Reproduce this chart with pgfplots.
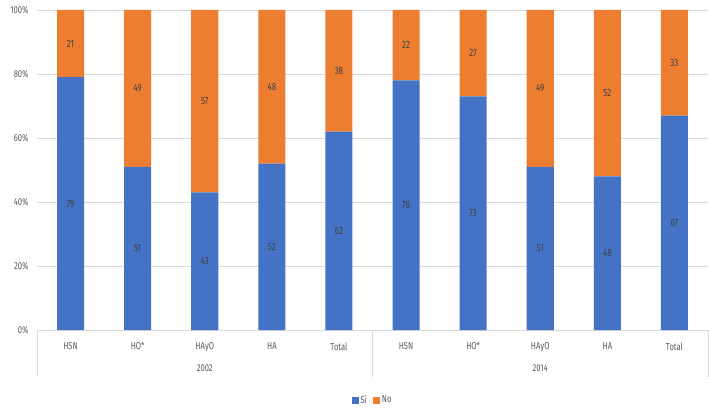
\documentclass[border=0pt]{standalone}
\usepackage{pgfplots}
\pgfplotsset{compat=1.18}
\usepackage{fontspec}
\setmainfont{Fira Sans}[FakeStretch=0.76]
\definecolor{cblue}{HTML}{4472C4}
\definecolor{corange}{HTML}{ED7D31}
\definecolor{gridc}{HTML}{D9D9D9}
\definecolor{txt}{HTML}{595959}
\definecolor{lbl}{HTML}{404040}
\begin{document}
\begin{tikzpicture}
\useasboundingbox (0,0) rectangle (709bp,411bp);
\begin{axis}[
  at={(37bp,81bp)}, anchor=south west,
  scale only axis, width=671bp, height=320bp,
  ymin=0, ymax=100, xmin=-0.5, xmax=9.5,
  enlargelimits=false, clip=false,
  ybar stacked, bar width=27bp,
  axis x line*=bottom, axis y line*=left,
  y axis line style={draw=none},
  x axis line style={draw=gridc, line width=0.8bp, -},
  ytick={0,20,40,60,80,100},
  yticklabel={\pgfmathprintnumber{\tick}\%},
  ymajorgrids, grid style={gridc, line width=0.8bp},
  major tick length=0pt,
  xtick={0,1,2,3,4,5,6,7,8,9},
  xticklabels={HSN,HO*,HAyO,HA,Total,HSN,HO*,HAyO,HA,Total},
  /pgf/number format/assume math mode=true,
  tick label style={font=\fontsize{10bp}{12bp}\selectfont, text=txt},
  yticklabel style={xshift=-5bp},
  xticklabel style={yshift=-9bp},
  nodes near coords={\pgfmathprintnumber[fixed,precision=0]{\rawy}},
  visualization depends on=rawy\as\rawy,
  every node near coord/.append style={anchor=center, font=\fontsize{10.5bp}{12bp}\selectfont, text=lbl},
  legend style={at={(0.5,-0.219)}, anchor=center, draw=none, legend columns=2,
    font=\fontsize{10bp}{12bp}\selectfont, text=txt,
    /tikz/every even column/.append style={column sep=4bp}},
]
\addplot[fill=cblue, draw=none, legend image code/.code={\fill[cblue] (0bp,-3.5bp) rectangle (7bp,3.5bp);}]
  coordinates {(0,79) (1,51) (2,43) (3,52) (4,62) (5,78) (6,73) (7,51) (8,48) (9,67)};
\addlegendentry{Sí}
\addplot[fill=corange, draw=none, legend image code/.code={\fill[corange] (0bp,-3.5bp) rectangle (7bp,3.5bp);}]
  coordinates {(0,21) (1,49) (2,57) (3,48) (4,38) (5,22) (6,27) (7,49) (8,52) (9,33)};
\addlegendentry{No}
\draw[gridc, line width=0.8bp] (axis cs:-0.5,0) -- ++(0bp,-47bp);
\draw[gridc, line width=0.8bp] (axis cs:4.5,0) -- ++(0bp,-47bp);
\draw[gridc, line width=0.8bp] (axis cs:9.5,0) -- ++(0bp,-47bp);
\node[font=\fontsize{10bp}{12bp}\selectfont, text=txt] at (axis cs:2,0) [yshift=-38bp] {2002};
\node[font=\fontsize{10bp}{12bp}\selectfont, text=txt] at (axis cs:7,0) [yshift=-38bp] {2014};
\end{axis}
\end{tikzpicture}
\end{document}
